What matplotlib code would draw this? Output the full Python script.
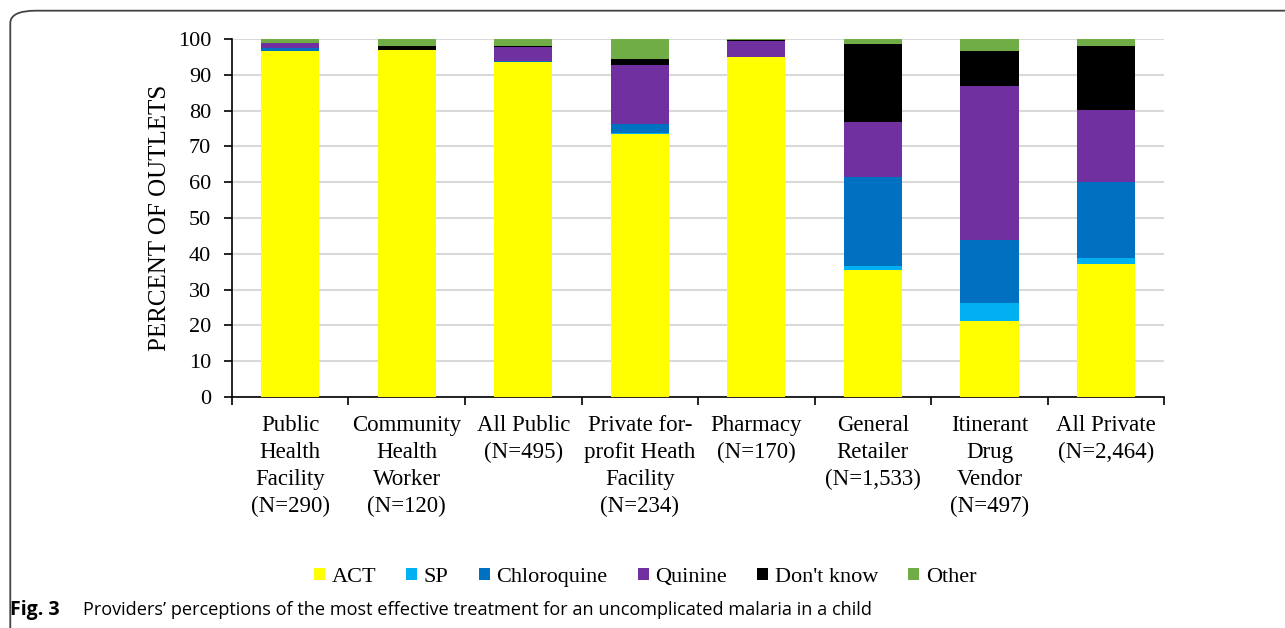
import numpy as np
import matplotlib.pyplot as plt
from matplotlib.patches import FancyBboxPatch

#Data (percent of outlets)
categories = ["Public\nHealth\nFacility\n(N=290)", "Community\nHealth\nWorker\n(N=120)",
              "All Public\n(N=495)", "Private for-\nprofit Heath\nFacility\n(N=234)",
              "Pharmacy\n(N=170)", "General\nRetailer\n(N=1,533)",
              "Itinerant\nDrug\nVendor\n(N=497)", "All Private\n(N=2,464)"]
act = [96.5, 97.0, 93.6, 73.4, 94.9, 35.5, 21.3, 37.0]
sp = [0.2, 0.0, 0.0, 0.2, 0.0, 1.2, 5.0, 1.7]
chloroquine = [0.8, 0.0, 0.1, 2.5, 0.0, 24.7, 17.5, 21.3]
quinine = [1.4, 0.0, 4.0, 16.7, 4.5, 15.4, 43.0, 20.2]
dont_know = [0.0, 0.9, 0.3, 1.6, 0.3, 21.9, 9.9, 17.7]
other = [1.1, 2.1, 2.0, 5.6, 0.3, 1.3, 3.3, 2.1]

series = [("ACT", act, "#ffff00"), ("SP", sp, "#00b0f0"), ("Chloroquine", chloroquine, "#0070c0"),
          ("Quinine", quinine, "#7030a0"), ("Don't know", dont_know, "#000000"),
          ("Other", other, "#70ad47")]

serif = "Liberation Serif"

fig = plt.figure(figsize=(12.85, 6.28), dpi=100)
ax = fig.add_axes([0.1805, 0.368, 0.7255, 0.570])

x = np.arange(len(categories))
bottom = np.zeros(len(categories))
for name, vals, col in series:
    ax.bar(x, vals, 0.5, bottom=bottom, color=col, label=name, zorder=3)
    bottom += np.array(vals)

ax.set_xlim(-0.5, len(categories) - 0.5)
ax.set_ylim(0, 100)
ax.set_yticks(range(0, 101, 10))
ax.yaxis.grid(True, color="#d9d9d9", linewidth=1.5, zorder=0)
ax.set_axisbelow(True)
for s in ["top", "right"]:
    ax.spines[s].set_visible(False)
ax.spines["left"].set_linewidth(1.2)
ax.spines["bottom"].set_linewidth(1.2)

#ticks between categories
ax.set_xticks(np.arange(-0.5, len(categories), 1.0))
ax.set_xticklabels([])
ax.tick_params(axis="x", length=6, width=1.2, direction="out")
ax.tick_params(axis="y", length=6, width=1.2, direction="out", labelsize=16, pad=9)
for lab in ax.get_yticklabels():
    lab.set_fontfamily(serif)

for i, c in enumerate(categories):
    ax.text(i, -5.0, c, ha="center", va="top", fontsize=16.5, family=serif,
            linespacing=1.38, transform=ax.transData)

ax.set_ylabel("PERCENT OF OUTLETS", fontsize=18, family=serif, labelpad=5)

leg = fig.legend(loc="center", bbox_to_anchor=(0.502, 0.081), ncol=6, frameon=False,
                 prop={"family": serif, "size": 16}, handlelength=0.5, handleheight=0.5,
                 handletextpad=0.3, columnspacing=1.35)

#caption
fig.text(0.008, 0.028, "Fig. 3", fontsize=14, fontweight="bold", family="Open Sans",
         ha="left", va="center")
fig.text(0.0646, 0.028, "Providers\u2019 perceptions of the most effective treatment for an uncomplicated malaria in a child",
         fontsize=13.1, family="Open Sans", ha="left", va="center")

#rounded border
box = FancyBboxPatch((0.008, -0.2), 1.2, 1.183, boxstyle="round,pad=0,rounding_size=0.02",
                     transform=fig.transFigure, fill=False, edgecolor="#444444",
                     linewidth=1.3)
fig.patches.append(box)

fig.savefig("out.png", dpi=100)
